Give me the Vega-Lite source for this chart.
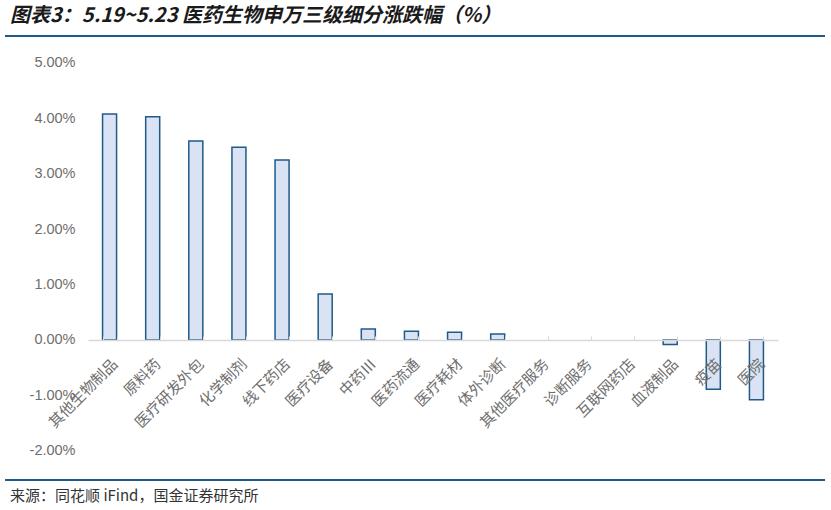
{
  "$schema": "https://vega.github.io/schema/vega-lite/v6.json",
  "background": "white",
  "padding": {"left": 0, "right": 6, "top": 6, "bottom": 0},
  "title": {
    "text": "图表3：5.19~5.23 医药生物申万三级细分涨跌幅（%）",
    "anchor": "start",
    "dx": 10,
    "fontSize": 20,
    "font": "Noto Sans CJK SC",
    "fontWeight": "bold",
    "fontStyle": "italic",
    "color": "#1a1a1a",
    "offset": 9
  },
  "config": {
    "view": {"stroke": null},
    "concat": {"spacing": 0}
  },
  "vconcat": [
    {
      "width": 820,
      "height": 444,
      "title": {
        "text": "来源：同花顺 iFind，国金证券研究所",
        "orient": "bottom",
        "anchor": "start",
        "dx": 10,
        "fontSize": 15,
        "font": "Noto Sans CJK SC",
        "fontWeight": "normal",
        "color": "#333333",
        "offset": 8
      },
      "data": {
        "values": [
          {"行业": "其他生物制品", "涨跌幅": 0.0408},
          {"行业": "原料药", "涨跌幅": 0.0403},
          {"行业": "医疗研发外包", "涨跌幅": 0.0359},
          {"行业": "化学制剂", "涨跌幅": 0.0348},
          {"行业": "线下药店", "涨跌幅": 0.0325},
          {"行业": "医疗设备", "涨跌幅": 0.0083},
          {"行业": "中药Ⅲ", "涨跌幅": 0.0020},
          {"行业": "医药流通", "涨跌幅": 0.0016},
          {"行业": "医疗耗材", "涨跌幅": 0.0014},
          {"行业": "体外诊断", "涨跌幅": 0.0011},
          {"行业": "其他医疗服务", "涨跌幅": 0.0},
          {"行业": "诊断服务", "涨跌幅": 0.0},
          {"行业": "互联网药店", "涨跌幅": 0.0},
          {"行业": "血液制品", "涨跌幅": -0.0008},
          {"行业": "疫苗", "涨跌幅": -0.0089},
          {"行业": "医院", "涨跌幅": -0.0108}
        ]
      },
      "layer": [
        {
          "mark": {"type": "bar", "fill": "#dae3f3", "stroke": "#1f5a88", "strokeWidth": 1.5},
          "encoding": {
            "x": {
              "field": "行业",
              "type": "nominal",
              "sort": null,
              "scale": {"range": [83, 773], "paddingInner": 0.675, "paddingOuter": 0.3375},
              "axis": {
                "orient": "bottom",
                "offset": -140,
                "zindex": 1,
                "title": null,
                "domainColor": "#d9d9d9",
                "domainWidth": 1.5,
                "tickColor": "#d9d9d9",
                "tickSize": -4,
                "tickWidth": 1,
                "tickBand": "extent",
                "labelAngle": -45,
                "labelAlign": "right",
                "labelBaseline": "middle",
                "labelFont": "Noto Sans CJK SC",
                "labelFontSize": 15,
                "labelColor": "#6e6e6e",
                "labelPadding": 25,
                "labelOffset": 5
              }
            },
            "y": {
              "field": "涨跌幅",
              "type": "quantitative",
              "scale": {"domain": [-0.02527, 0.05487], "nice": false, "zero": false},
              "axis": {
                "orient": "left",
                "offset": -70,
                "title": null,
                "domain": false,
                "ticks": false,
                "tickSize": 0,
                "grid": false,
                "values": [-0.02, -0.01, 0, 0.01, 0.02, 0.03, 0.04, 0.05],
                "labelExpr": "replace(format(datum.value, '.2%'), '−', '-')",
                "labelFont": "Liberation Sans",
                "labelFontSize": 14.5,
                "labelColor": "#6e6e6e",
                "labelPadding": 0
              }
            },
            "strokeOpacity": {
              "condition": {"test": "datum['涨跌幅'] == 0", "value": 0},
              "value": 1
            }
          }
        },
        {
          "data": {"values": [{"位置": 0.05487}, {"位置": -0.02527}]},
          "mark": {"type": "rule", "color": "#1f5a88", "strokeWidth": 2},
          "encoding": {
            "y": {"field": "位置", "type": "quantitative"}
          }
        }
      ]
    }
  ]
}
